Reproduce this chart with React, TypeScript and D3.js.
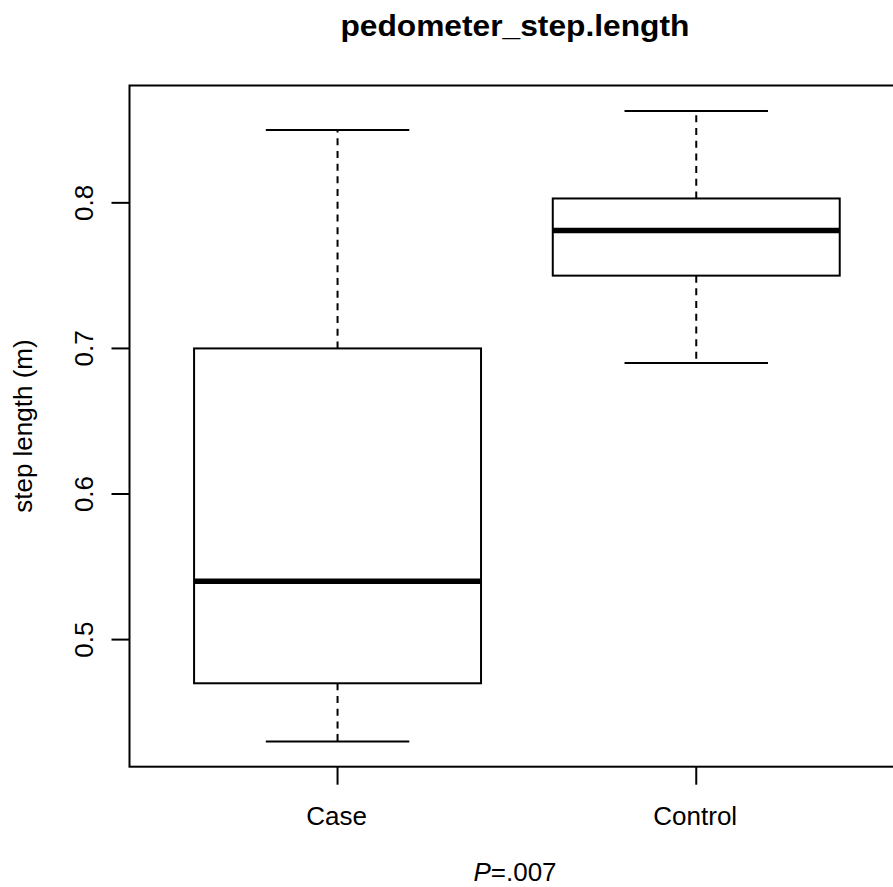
import { useEffect } from 'react';
import * as d3 from 'd3';

// Boxplot summary per group
const groups = ['Case', 'Control'];
const whiskerLow = [0.43, 0.69];
const q1 = [0.47, 0.75];
const medians = [0.54, 0.781];
const q3 = [0.7, 0.803];
const whiskerHigh = [0.85, 0.863];
const yTicks = [0.5, 0.6, 0.7, 0.8];

const title = 'pedometer_step.length';
const yLabel = 'step length (m)';

export default function App() {
  const width = 893;
  const height = 887;

  // plot region (R style usr extents, right edge runs off the picture)
  const left = 129.5;
  const right = 904.3;
  const top = 85.5;
  const bottom = 766.7;

  useEffect(() => {
    document.body.style.margin = '0';
  }, []);

  const xScale = d3.scaleLinear().domain([0.42, 2.58]).range([left, right]);
  const yScale = d3.scaleLinear().domain([0.4127, 0.8806]).range([bottom, top]);

  const font = '"Liberation Sans", Arial, sans-serif';
  const boxHalf = 0.4;
  const capHalf = 0.2;
  const tickLen = 18;

  return (
    <svg width={width} height={height} style={{ display: 'block', background: '#fff' }}>
      <text
        x={(left + right) / 2 - 2}
        y={36}
        textAnchor="middle"
        fontFamily={font}
        fontWeight="bold"
        fontSize={30}
        textLength={349}
        lengthAdjust="spacingAndGlyphs"
      >
        {title}
      </text>

      {/* boxes */}
      {groups.map((g, i) => {
        const cx = xScale(i + 1);
        const x0 = xScale(i + 1 - boxHalf);
        const x1 = xScale(i + 1 + boxHalf);
        const c0 = xScale(i + 1 - capHalf);
        const c1 = xScale(i + 1 + capHalf);
        return (
          <g key={g} stroke="#000" fill="none">
            <line x1={cx} x2={cx} y1={yScale(q3[i])} y2={yScale(whiskerHigh[i])} strokeWidth={2} strokeDasharray="7,5.7" />
            <line x1={cx} x2={cx} y1={yScale(q1[i])} y2={yScale(whiskerLow[i])} strokeWidth={2} strokeDasharray="7,5.7" />
            <line x1={c0} x2={c1} y1={yScale(whiskerHigh[i])} y2={yScale(whiskerHigh[i])} strokeWidth={2} />
            <line x1={c0} x2={c1} y1={yScale(whiskerLow[i])} y2={yScale(whiskerLow[i])} strokeWidth={2} />
            <rect
              x={x0}
              y={yScale(q3[i])}
              width={x1 - x0}
              height={yScale(q1[i]) - yScale(q3[i])}
              strokeWidth={2}
            />
            <line x1={x0} x2={x1} y1={yScale(medians[i])} y2={yScale(medians[i])} strokeWidth={5.5} />
          </g>
        );
      })}

      {/* frame */}
      <rect x={left} y={top} width={right - left} height={bottom - top} fill="none" stroke="#000" strokeWidth={2} />

      {/* y axis */}
      {yTicks.map((t) => (
        <g key={t}>
          <line x1={left - tickLen} x2={left} y1={yScale(t)} y2={yScale(t)} stroke="#000" strokeWidth={2} />
          <text
            transform={`translate(93,${yScale(t)}) rotate(-90)`}
            textAnchor="middle"
            fontFamily={font}
            fontSize={26}
          >
            {d3.format('.1f')(t)}
          </text>
        </g>
      ))}
      <text
        transform={`translate(32,${(top + bottom) / 2}) rotate(-90)`}
        textAnchor="middle"
        fontFamily={font}
        fontSize={26}
      >
        {yLabel}
      </text>

      {/* x axis */}
      {groups.map((g, i) => (
        <g key={g}>
          <line x1={xScale(i + 1)} x2={xScale(i + 1)} y1={bottom} y2={bottom + tickLen} stroke="#000" strokeWidth={2} />
          <text x={xScale(i + 1) - 1} y={824.5} textAnchor="middle" fontFamily={font} fontSize={26}>
            {g}
          </text>
        </g>
      ))}
      <text x={515} y={881} textAnchor="middle" fontFamily={font} fontSize={26}>
        <tspan fontStyle="italic">P</tspan>
        <tspan>=.007</tspan>
      </text>
    </svg>
  );
}
